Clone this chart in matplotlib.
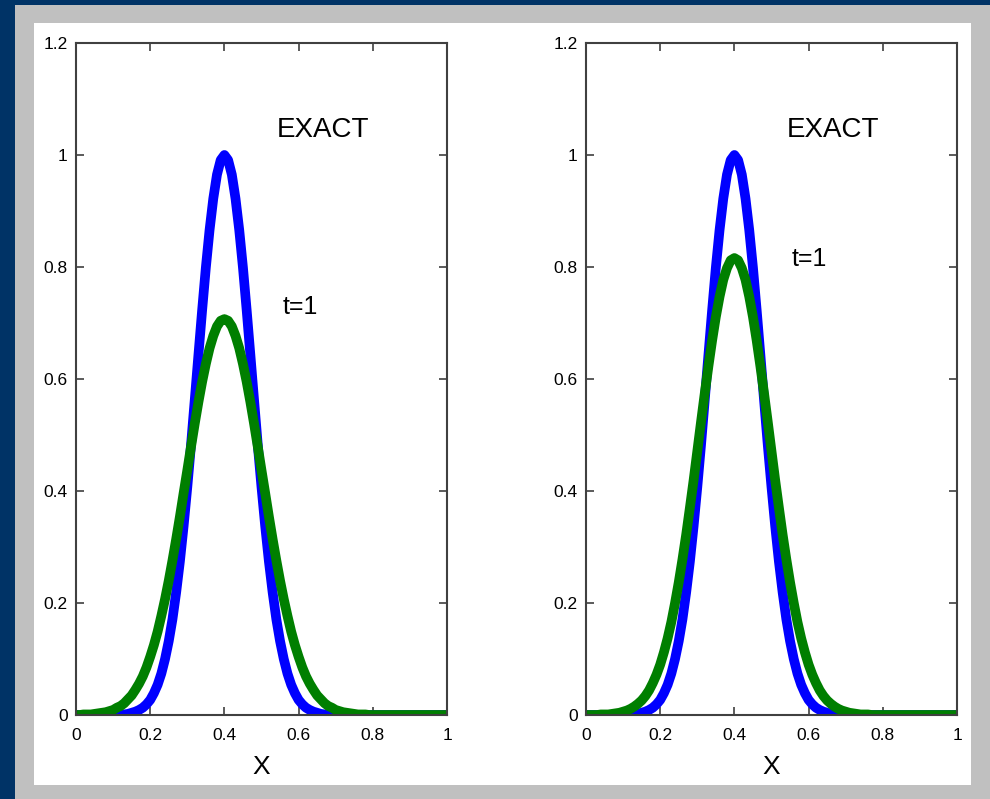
import numpy as np
import matplotlib
matplotlib.use("Agg")
import matplotlib.pyplot as plt
from matplotlib.patches import Rectangle

plt.rcParams['font.family'] = ['Liberation Sans', 'DejaVu Sans']

# x grid 0 .. 1 step 0.01 (101 points)
x = np.linspace(0, 1, 101)

# exact solution (same in both panels)
exact = [0, 0, 0, 0, 0, 0, 0, 0, 0, 0,
         0, 0, 0.001, 0.001, 0.002, 0.004, 0.006, 0.009, 0.013, 0.019,
         0.027, 0.039, 0.054, 0.074, 0.100, 0.132, 0.171, 0.219, 0.274, 0.337,
         0.407, 0.482, 0.562, 0.643, 0.723, 0.799, 0.866, 0.922, 0.965, 0.991,
         1.0,
         0.991, 0.965, 0.922, 0.866, 0.799, 0.723, 0.643, 0.562, 0.482, 0.407,
         0.337, 0.274, 0.219, 0.171, 0.132, 0.100, 0.074, 0.054, 0.039, 0.027,
         0.019, 0.013, 0.009, 0.006, 0.004, 0.002, 0.001, 0.001, 0, 0,
         0, 0, 0, 0, 0, 0, 0, 0, 0, 0,
         0, 0, 0, 0, 0, 0, 0, 0, 0, 0,
         0, 0, 0, 0, 0, 0, 0, 0, 0, 0]

# numerical solution at t=1, left panel
num_left = [0, 0, 0.001, 0.001, 0.001, 0.002, 0.003, 0.004, 0.005, 0.007,
            0.009, 0.013, 0.016, 0.021, 0.028, 0.035, 0.045, 0.056, 0.069, 0.085,
            0.104, 0.125, 0.149, 0.177, 0.207, 0.240, 0.276, 0.314, 0.354, 0.396,
            0.437, 0.479, 0.520, 0.559, 0.595, 0.627, 0.655, 0.677, 0.694, 0.704,
            0.707,
            0.704, 0.694, 0.677, 0.655, 0.627, 0.595, 0.559, 0.520, 0.479, 0.437,
            0.396, 0.354, 0.314, 0.276, 0.240, 0.207, 0.177, 0.149, 0.125, 0.104,
            0.085, 0.069, 0.056, 0.045, 0.035, 0.028, 0.021, 0.016, 0.013, 0.009,
            0.007, 0.005, 0.004, 0.003, 0.002, 0.001, 0.001, 0.001, 0, 0,
            0, 0, 0, 0, 0, 0, 0, 0, 0, 0,
            0, 0, 0, 0, 0, 0, 0, 0, 0, 0]

# numerical solution at t=1, right panel
num_right = [0, 0, 0, 0, 0.001, 0.001, 0.001, 0.002, 0.003, 0.004,
             0.006, 0.008, 0.011, 0.015, 0.020, 0.026, 0.034, 0.044, 0.057, 0.072,
             0.090, 0.112, 0.137, 0.166, 0.200, 0.237, 0.278, 0.322, 0.370, 0.419,
             0.471, 0.523, 0.574, 0.623, 0.669, 0.711, 0.747, 0.777, 0.798, 0.812,
             0.816,
             0.812, 0.798, 0.777, 0.747, 0.711, 0.669, 0.623, 0.574, 0.523, 0.471,
             0.419, 0.370, 0.322, 0.278, 0.237, 0.200, 0.166, 0.137, 0.112, 0.090,
             0.072, 0.057, 0.044, 0.034, 0.026, 0.020, 0.015, 0.011, 0.008, 0.006,
             0.004, 0.003, 0.002, 0.001, 0.001, 0.001, 0, 0, 0, 0,
             0, 0, 0, 0, 0, 0, 0, 0, 0, 0,
             0, 0, 0, 0, 0, 0, 0, 0, 0, 0]

xticks = [0, 0.2, 0.4, 0.6, 0.8, 1]
xticklabels = ['0', '0.2', '0.4', '0.6', '0.8', '1']
yticks = [0, 0.2, 0.4, 0.6, 0.8, 1, 1.2]
yticklabels = ['0', '0.2', '0.4', '0.6', '0.8', '1', '1.2']

W, H = 990, 799
fig = plt.figure(figsize=(W / 100, H / 100), dpi=100)
fig.patch.set_facecolor('#c0c0c0')

# navy border strips and white inner panel (behind the axes)
fig.patches.append(Rectangle((0, 0), 15 / W, 1, transform=fig.transFigure,
                             facecolor='#003366', edgecolor='none', zorder=-2))
fig.patches.append(Rectangle((0, 794 / H), 1, 5 / H, transform=fig.transFigure,
                             facecolor='#003366', edgecolor='none', zorder=-2))
fig.patches.append(Rectangle((34 / W, (H - 785) / H), 937 / W, 762 / H,
                             transform=fig.transFigure, facecolor='white',
                             edgecolor='none', zorder=-1))

panels = [
    (76, num_left, (0.604, 0.728)),
    (586, num_right, (0.601, 0.815)),
]

for left_px, num, tpos in panels:
    ax = fig.add_axes([left_px / W, (H - 715) / H, 371 / W, 672 / H])
    ax.plot(x, exact, color='#0000ff', lw=7, solid_capstyle='butt')
    ax.plot(x, num, color='#007f00', lw=7, solid_capstyle='butt')
    ax.set_xlim(0, 1)
    ax.set_ylim(0, 1.2)
    ax.set_xticks(xticks)
    ax.set_xticklabels(xticklabels)
    ax.set_yticks(yticks)
    ax.set_yticklabels(yticklabels)
    ax.tick_params(direction='in', length=6, width=1.2, color='#404040',
                   top=True, right=True, labelsize=12.5)
    ax.tick_params(axis='x', pad=9)
    ax.tick_params(axis='y', pad=6)
    for s in ax.spines.values():
        s.set_color('#404040')
        s.set_linewidth(1.5)
    ax.set_xlabel('X', fontsize=19, labelpad=9)
    ax.text(0.665, 1.045, 'EXACT', fontsize=20, ha='center', va='center')
    ax.text(tpos[0], tpos[1], 't=1', fontsize=18, ha='center', va='center')

fig.savefig('out.png', dpi=100, facecolor=fig.get_facecolor())
